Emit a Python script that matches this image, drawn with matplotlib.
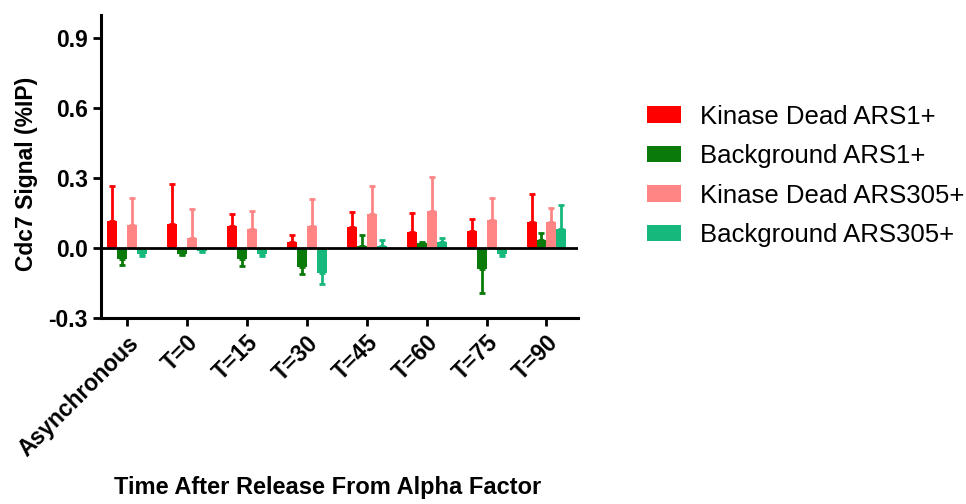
import numpy as np
import matplotlib
matplotlib.use('Agg')
import matplotlib.pyplot as plt

plt.rcParams['font.family'] = ['Liberation Sans', 'DejaVu Sans']

groups = ['Asynchronous', 'T=0', 'T=15', 'T=30', 'T=45', 'T=60', 'T=75', 'T=90']
series = ['Kinase Dead ARS1+', 'Background ARS1+', 'Kinase Dead ARS305+', 'Background ARS305+']
colors = ['#ff0000', '#0a7a0a', '#ff8585', '#17b87c']

kd_ars1 = [0.116, 0.104, 0.096, 0.027, 0.089, 0.070, 0.074, 0.113]
kd_ars1_err = [0.150, 0.170, 0.050, 0.029, 0.065, 0.081, 0.053, 0.118]
bg_ars1 = [-0.048, -0.026, -0.048, -0.080, 0.010, 0.020, -0.091, 0.034]
bg_ars1_err = [0.025, 0.004, 0.029, 0.029, 0.046, 0.005, 0.100, 0.029]
kd_ars305 = [0.099, 0.044, 0.081, 0.093, 0.146, 0.161, 0.120, 0.113]
kd_ars305_err = [0.114, 0.123, 0.078, 0.117, 0.121, 0.145, 0.093, 0.061]
bg_ars305 = [-0.025, -0.012, -0.025, -0.106, 0.007, 0.027, -0.026, 0.081]
bg_ars305_err = [0.010, 0.004, 0.008, 0.048, 0.027, 0.017, 0.008, 0.103]

means = [kd_ars1, bg_ars1, kd_ars305, bg_ars305]
errs = [kd_ars1_err, bg_ars1_err, kd_ars305_err, bg_ars305_err]

fig = plt.figure(figsize=(9.66, 5.04), dpi=100)
ax = fig.add_axes([0.1046, 0.369, 0.4934, 0.601])

x = np.arange(len(groups))
w = 1 / 6
for i in range(4):
    m = np.array(means[i])
    e = np.array(errs[i])
    pos = x + (i - 1.5) * w
    ax.bar(pos, m, width=w, color=colors[i], label=series[i], zorder=2)
    # one-sided error bars, pointing away from zero
    lower = np.where(m < 0, e, 0)
    upper = np.where(m >= 0, e, 0)
    ax.errorbar(pos, m, yerr=[lower, upper], fmt='none', ecolor=colors[i],
                elinewidth=2, capsize=2.5, capthick=2, zorder=2)

ax.axhline(0, color='black', lw=2, zorder=3)
ax.set_ylim(-0.3, 1.0)
ax.set_xlim(-0.43, 7.52)
ax.set_yticks([-0.3, 0.0, 0.3, 0.6, 0.9])
ax.set_yticklabels(['-0.3', '0.0', '0.3', '0.6', '0.9'], fontsize=16.5, fontweight='bold')
ax.set_xticks(x)
ax.set_xticklabels(groups, rotation=45, ha='right', rotation_mode='anchor',
                   fontsize=16.5, fontweight='bold')
for s in ['top', 'right']:
    ax.spines[s].set_visible(False)
for s in ['left', 'bottom']:
    ax.spines[s].set_linewidth(2.2)
ax.tick_params(width=2, length=6)
ax.set_ylabel('Cdc7 Signal (%IP)', fontsize=16.5, fontweight='bold')
ax.yaxis.set_label_coords(-0.133, 0.477)
fig.text(0.339, 0.032, 'Time After Release From Alpha Factor', fontsize=17,
         fontweight='bold', ha='center', va='center')

fig.legend(loc='center left', bbox_to_anchor=(0.646, 0.651), frameon=False,
           fontsize=18.5, handlelength=1.32, handleheight=0.62, handletextpad=0.74,
           labelspacing=0.6)

plt.savefig('out.png', dpi=100)
